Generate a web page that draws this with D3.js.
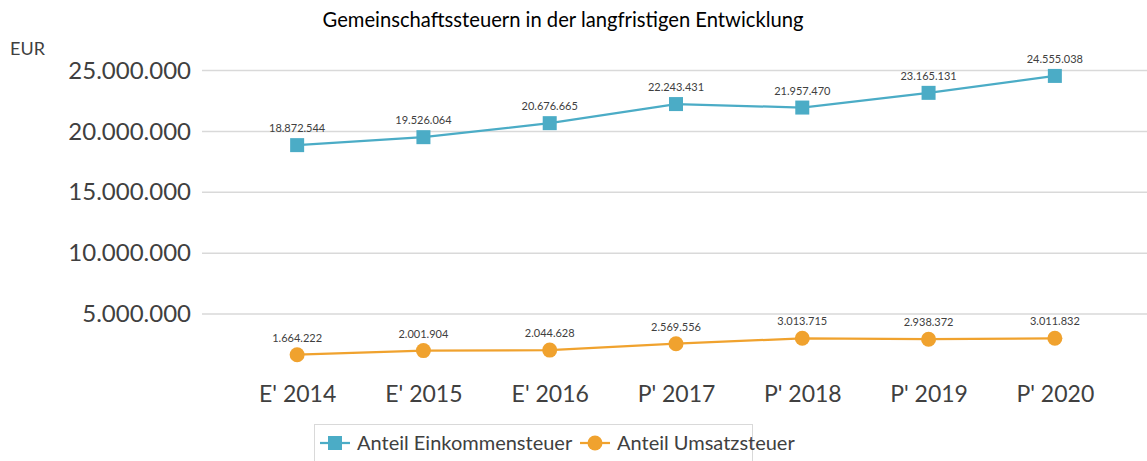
<!DOCTYPE html>
<html><head><meta charset="utf-8">
<script src="https://cdn.jsdelivr.net/npm/d3@7"></script>
<style>
html,body{margin:0;padding:0;background:#fff;}
svg{display:block;font-family:Lato, "Open Sans", sans-serif;}
</style></head>
<body>
<svg id="chart" width="1147" height="461"></svg>
<script>
const categories = ["E' 2014","E' 2015","E' 2016","P' 2017","P' 2018","P' 2019","P' 2020"];
const einkommen = [18872544,19526064,20676665,22243431,21957470,23165131,24555038];
const umsatz = [1664222,2001904,2044628,2569556,3013715,2938372,3011832];
const yTicks = [5000000,10000000,15000000,20000000,25000000];
const seriesNames = ["Anteil Einkommensteuer","Anteil Umsatzsteuer"];
const colors = ["#4BACC6","#F0A22E"];

const svg = d3.select("#chart");
const x = d3.scalePoint().domain(categories).range([234,1118]).padding(0.5);
const y = d3.scaleLinear().domain([0,25000000]).range([375,70.5]);
const fmt = v => d3.format(",")(v).replace(/,/g,".");

// title
svg.append("text").attr("x",563).attr("y",27).attr("text-anchor","middle")
  .attr("font-size",20.2).attr("fill","#000").text("Gemeinschaftssteuern in der langfristigen Entwicklung");
svg.append("text").attr("x",10).attr("y",55).attr("font-size",18).attr("fill","#404040").text("EUR");

// gridlines
const yAxis = d3.axisLeft(y).tickValues(yTicks).tickSize(0).tickPadding(11).tickFormat(fmt);
const gy = svg.append("g").attr("transform","translate(202,0)").call(yAxis);
gy.select(".domain").remove();
gy.selectAll("text").attr("font-size",24).attr("fill","#404040").attr("font-family","Lato, sans-serif");
svg.append("g").selectAll("line").data(yTicks).join("line")
  .attr("x1",202).attr("x2",1147).attr("y1",d=>y(d)).attr("y2",d=>y(d))
  .attr("stroke","#d9d9d9").attr("stroke-width",1.5);

// x axis labels
const xAxis = d3.axisBottom(x).tickSize(0).tickPadding(0);
const gx = svg.append("g").attr("transform","translate(0,385)").call(xAxis);
gx.select(".domain").remove();
gx.selectAll("text").attr("font-size",23).attr("fill","#404040").attr("dy","0.72em").attr("font-family","Lato, sans-serif");

const line = d3.line().x((d,i)=>x(categories[i])).y(d=>y(d));
const data = [einkommen, umsatz];

data.forEach((vals,si)=>{
  svg.append("path").datum(vals).attr("d",line).attr("fill","none")
    .attr("stroke",colors[si]).attr("stroke-width",2.25);
  const g = svg.append("g");
  if(si===0){
    g.selectAll("rect").data(vals).join("rect")
      .attr("x",(d,i)=>x(categories[i])-7).attr("y",d=>y(d)-7)
      .attr("width",14).attr("height",14).attr("fill",colors[si]);
  } else {
    g.selectAll("circle").data(vals).join("circle")
      .attr("cx",(d,i)=>x(categories[i])).attr("cy",d=>y(d)).attr("r",7.5).attr("fill",colors[si]);
  }
  svg.append("g").selectAll("text").data(vals).join("text")
    .attr("x",(d,i)=>x(categories[i])).attr("y",d=>y(d)-13)
    .attr("text-anchor","middle").attr("font-size",11).attr("fill","#404040")
    .text(fmt);
});

// legend
const lg = svg.append("g");
lg.append("rect").attr("x",314.5).attr("y",424.5).attr("width",438).attr("height",60)
  .attr("fill","#fff").attr("stroke","#d9d9d9").attr("stroke-width",1);
const items = [{x:320, tx:357},{x:580, tx:617}];
items.forEach((it,i)=>{
  lg.append("line").attr("x1",it.x).attr("x2",it.x+30).attr("y1",443).attr("y2",443)
    .attr("stroke",colors[i]).attr("stroke-width",2.25);
  if(i===0) lg.append("rect").attr("x",it.x+8).attr("y",436).attr("width",14).attr("height",14).attr("fill",colors[i]);
  else lg.append("circle").attr("cx",it.x+15).attr("cy",443).attr("r",7.5).attr("fill",colors[i]);
  lg.append("text").attr("x",it.tx).attr("y",443).attr("dy","0.35em").attr("font-size",20)
    .attr("fill","#404040").text(seriesNames[i]);
});
</script>
</body></html>
